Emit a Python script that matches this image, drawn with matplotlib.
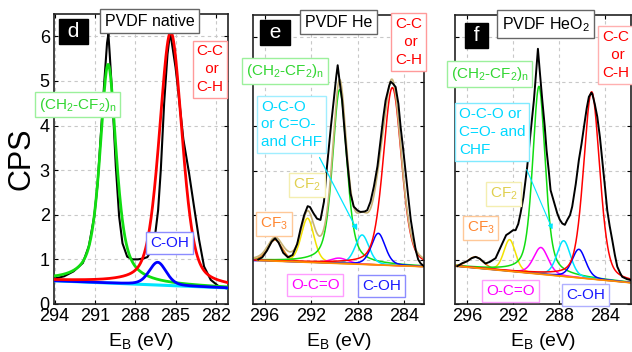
import numpy as np
import matplotlib.pyplot as plt
from matplotlib import font_manager

d_energy = [294.0, 293.3, 292.6, 291.9, 291.45, 291.05, 290.8, 290.55, 290.3, 290.1,
            290.0, 289.9, 289.7, 289.45, 289.2, 288.95, 288.6, 288.2, 287.8, 287.4,
            287.1, 286.8, 286.5, 286.3, 286.1, 285.85, 285.6, 285.4, 285.2, 285.0,
            284.87, 284.42, 284.0, 283.63, 283.25, 282.88, 282.38, 281.76, 281.2]
d_cps = [0.57, 0.62, 0.73, 0.92, 1.3, 1.97, 2.7, 3.85, 5.0, 5.85,
         6.05, 5.6, 4.6, 3.1, 1.96, 1.36, 1.06, 1.0, 1.0, 1.02,
         1.05, 1.2, 1.6, 2.1, 3.0, 4.5, 5.6, 6.1, 5.7, 5.3,
         4.96, 3.69, 2.94, 2.19, 1.44, 0.84, 0.54, 0.39, 0.35]

e_energy = [296.55, 296.2, 295.8, 295.4, 295.1, 294.8, 294.4, 294.0, 293.6, 293.2,
            292.9, 292.6, 292.3, 292.1, 291.8, 291.5, 291.2, 290.9, 290.64, 290.3,
            290.06, 289.85, 289.72, 289.55, 289.34, 289.1, 288.91, 288.62, 288.34, 288.0,
            287.76, 287.4, 287.18, 286.9, 286.61, 286.3, 286.03, 285.8, 285.6, 285.3,
            285.17, 284.95, 284.74, 284.5, 284.31, 284.1, 283.87, 283.65, 283.44, 283.2,
            283.01, 282.8, 282.58, 282.3]
e_cps = [1.0, 1.05, 1.2, 1.4, 1.48, 1.38, 1.15, 1.05, 1.1, 1.35,
         1.7, 2.0, 2.2, 2.18, 2.04, 1.92, 1.89, 2.3, 3.09, 4.0,
         4.58, 5.1, 5.37, 5.0, 4.58, 3.8, 3.24, 2.49, 2.19, 2.1,
         2.07, 2.08, 2.11, 2.3, 2.64, 3.1, 3.69, 4.2, 4.58, 4.9,
         5.0, 4.95, 4.88, 4.5, 3.98, 3.5, 2.94, 2.4, 1.9, 1.5,
         1.21, 1.0, 0.91, 0.85]

f_energy = [296.85, 296.4, 296.0, 295.6, 295.26, 294.9, 294.4, 294.0, 293.52, 292.94,
            292.6, 292.36, 292.0, 291.78, 291.55, 291.35, 291.1, 290.77, 290.5, 290.19,
            290.0, 289.84, 289.7, 289.46, 289.25, 289.09, 288.9, 288.74, 288.45, 288.16,
            287.95, 287.72, 287.5, 287.29, 287.05, 286.86, 286.55, 286.28, 286.05, 285.84,
            285.6, 285.41, 285.2, 285.12, 284.9, 284.68, 284.45, 284.25, 284.0, 283.81,
            283.6, 283.38, 283.15, 282.94, 282.7, 282.51, 282.1, 281.8]
f_cps = [0.85, 0.92, 0.96, 1.03, 1.06, 1.02, 0.91, 0.95, 1.03, 1.36,
         1.55, 1.59, 1.66, 1.66, 1.8, 2.04, 2.4, 3.09, 3.8, 4.58,
         5.2, 5.74, 5.3, 4.58, 4.0, 3.46, 3.0, 2.56, 2.3, 2.04,
         1.9, 1.81, 1.78, 1.89, 2.0, 2.19, 2.7, 3.24, 3.6, 3.98,
         4.4, 4.66, 4.75, 4.73, 4.5, 4.21, 3.75, 3.24, 2.6, 2.1,
         1.75, 1.44, 1.1, 0.84, 0.7, 0.61, 0.56, 0.54]

# fitted components: centre (eV), height above background, FWHM (eV), lorentz fraction
d_names = ['CH2-CF2', 'C-OH', 'C-C']
d_center = [290.02, 286.33, 285.36]
d_height = [4.9, 0.51, 5.68]
d_fwhm = [1.45, 1.5, 2.0]
d_eta = [0.7, 0.3, 0.4]
d_bg_energy = [294.05, 281.1]
d_bg_cps = [0.52, 0.36]

e_names = ['CF3', 'CF2', 'CH2-CF2', 'O-C=O', 'OCO', 'C-OH', 'C-C']
e_center = [295.1, 292.31, 289.55, 289.6, 287.62, 286.23, 285.02]
e_height = [0.475, 0.99, 3.91, 0.12, 0.66, 0.71, 4.0]
e_fwhm = [1.5, 1.3, 1.45, 1.8, 1.4, 1.4, 1.85]
e_eta = [0.3, 0.3, 0.5, 0.3, 0.3, 0.3, 0.35]
e_bg_energy = [296.6, 282.2]
e_bg_cps = [0.98, 0.84]

f_names = ['CF3', 'CF2', 'CH2-CF2', 'O-C=O', 'OCO', 'C-OH', 'C-C']
f_center = [295.26, 292.3, 289.75, 289.58, 287.6, 286.28, 285.17]
f_height = [0.25, 0.71, 4.22, 0.6, 0.8, 0.64, 4.21]
f_fwhm = [1.6, 1.2, 1.3, 1.5, 1.4, 1.4, 1.65]
f_eta = [0.3, 0.3, 0.5, 0.3, 0.3, 0.3, 0.35]
f_bg_energy = [296.9, 281.8]
f_bg_cps = [0.85, 0.48]

colors = {'CH2-CF2': '#11dd11', 'C-OH': '#0000ff', 'C-C': '#ff0000', 'CF3': '#e8801a',
          'CF2': '#f2e200', 'O-C=O': '#ff00ff', 'OCO': '#00e5ff'}

names = [f.name for f in font_manager.fontManager.ttflist]
narrow = 'Liberation Sans Narrow' if 'Liberation Sans Narrow' in names else 'Liberation Sans'
plt.rcParams['font.family'] = ['Liberation Sans', 'DejaVu Sans']
plt.rcParams['mathtext.default'] = 'regular'


def pvoigt(x, c, w, eta):
    r = (x - c) / w
    return eta / (1 + 4 * r ** 2) + (1 - eta) * np.exp(-4 * np.log(2) * r ** 2)


def setup(ax, xlim, xticks, ylabels):
    ax.set_xlim(xlim)
    ax.set_ylim(0, 6.5)
    ax.set_xticks(xticks)
    ax.set_yticks(range(7))
    ax.grid(True, color='#c8c8c8', ls=(0, (3, 3)), lw=0.8)
    ax.tick_params(direction='in', top=True, right=True, length=3, width=0.8,
                   labelsize=13, pad=3, labelleft=ylabels)
    for lab in ax.get_xticklabels() + ax.get_yticklabels():
        lab.set_family([narrow, 'Liberation Sans'])
    for s in ax.spines.values():
        s.set_linewidth(1.2)
        s.set_color('#222222')
    ax.set_xlabel('E$_B$ (eV)', fontsize=14, labelpad=4)


def components(ax, xlim, bg_e, bg_c, nm, cen, hgt, fw, et, lw, z):
    x = np.linspace(xlim[0], xlim[1], 800)
    bg = np.interp(x, bg_e[::-1], bg_c[::-1])
    total = bg.copy()
    for n, c, h, w, e in zip(nm, cen, hgt, fw, et):
        y = bg + h * pvoigt(x, c, w, e)
        total += h * pvoigt(x, c, w, e)
        ax.plot(x, y, color=colors[n], lw=lw, zorder=z)
    return x, total


def label(ax, x, y, s, col, ec, ha='center', fs=11):
    ax.text(x, y, s, color=col, fontsize=fs, ha=ha, va='center', zorder=10,
            linespacing=1.35,
            bbox=dict(boxstyle='square,pad=0.25', fc='white', ec=ec, lw=1))


def title_box(ax, x, y, s):
    ax.text(x, y, s, color='black', fontsize=11.5, ha='center', va='center', zorder=10,
            bbox=dict(boxstyle='square,pad=0.3', fc='white', ec='#666666', lw=1))


def panel_tag(ax, x, y, s):
    ax.text(x, y, s, color='white', fontsize=15, ha='center', va='center', zorder=10,
            bbox=dict(boxstyle='square,pad=0.15', fc='black', ec='black'))


fig = plt.figure(figsize=(6.32, 3.52), dpi=100)
ax_d = fig.add_axes([0.0854, 0.1364, 0.2753, 0.8239])
ax_e = fig.add_axes([0.4003, 0.1364, 0.2706, 0.821])
ax_f = fig.add_axes([0.7199, 0.1364, 0.2785, 0.821])

# ---- d : PVDF native
xl = (294.05, 281.1)
setup(ax_d, xl, [294, 291, 288, 285, 282], True)
ax_d.set_ylabel('CPS', fontsize=22, labelpad=2)
ax_d.plot(d_energy, d_cps, color='black', lw=1.5, zorder=3)
ax_d.plot(d_bg_energy, d_bg_cps, color='#00e5ff', lw=2.2, zorder=4)
components(ax_d, xl, d_bg_energy, d_bg_cps, d_names, d_center, d_height, d_fwhm, d_eta, 2.0, 4)
panel_tag(ax_d, 292.6, 6.1, ' d ')
title_box(ax_d, 286.93, 6.34, 'PVDF native')
label(ax_d, 282.45, 5.26, 'C-C\n or\nC-H', '#ff0000', '#ff9a9a')
label(ax_d, 292.29, 4.47, '(CH$_2$-CF$_2$)$_n$', '#33d633', '#9cf09c')
label(ax_d, 285.44, 1.37, 'C-OH', '#1a1aff', '#8c8cff')

# ---- e : PVDF He
xl = (297.0, 282.3)
setup(ax_e, xl, [296, 292, 288, 284], False)
xe, env = components(ax_e, xl, e_bg_energy, e_bg_cps, e_names, e_center, e_height,
                     e_fwhm, e_eta, 1.1, 2)
ax_e.plot(e_bg_energy, e_bg_cps, color='#ff8c00', lw=1.3, zorder=2.5)
ax_e.plot(xe, env, color='#c8b478', lw=1.2, zorder=2)
ax_e.plot(e_energy, e_cps, color='black', lw=1.4, zorder=3)
panel_tag(ax_e, 295.1, 6.1, ' e ')
title_box(ax_e, 289.66, 6.34, 'PVDF He')
label(ax_e, 283.61, 5.89, 'C-C\n or\nC-H', '#ff0000', '#ff9a9a')
label(ax_e, 294.24, 5.24, '(CH$_2$-CF$_2$)$_n$', '#33d633', '#9cf09c')
label(ax_e, 296.3, 4.04, 'O-C-O\nor C=O-\nand CHF', '#00d8ff', '#a0eeff', ha='left')
ax_e.annotate('', xy=(287.93, 1.6), xytext=(291.39, 3.35), zorder=9,
              arrowprops=dict(arrowstyle='-|>', color='#00e5ff', lw=0.9, mutation_scale=8))
label(ax_e, 292.34, 2.67, 'CF$_2$', '#e0d050', '#f4eeb0')
label(ax_e, 295.19, 1.8, 'CF$_3$', '#ff8833', '#ffc898')
label(ax_e, 291.65, 0.43, 'O-C=O', '#ff00ff', '#ff9cff')
label(ax_e, 285.95, 0.40, 'C-OH', '#1a1aff', '#8c8cff')

# ---- f : PVDF HeO2
xl = (297.05, 281.75)
setup(ax_f, xl, [296, 292, 288, 284], False)
components(ax_f, xl, f_bg_energy, f_bg_cps, f_names, f_center, f_height, f_fwhm, f_eta, 1.1, 2)
ax_f.plot(f_bg_energy, f_bg_cps, color='#ff8c00', lw=1.3, zorder=2.5)
ax_f.plot(f_energy, f_cps, color='black', lw=1.4, zorder=3)
panel_tag(ax_f, 295.17, 6.04, ' f ')
title_box(ax_f, 289.17, 6.29, 'PVDF HeO$_2$')
label(ax_f, 283.09, 5.6, 'C-C\n or\nC-H', '#ff0000', '#ffb0b0')
label(ax_f, 294.04, 5.17, '(CH$_2$-CF$_2$)$_n$', '#33d633', '#9cf09c')
label(ax_f, 296.7, 3.87, 'O-C-O or\nC=O- and\nCHF', '#00d8ff', '#80eaff', ha='left')
ax_f.annotate('', xy=(288.48, 1.62), xytext=(290.91, 3.08), zorder=9,
              arrowprops=dict(arrowstyle='-|>', color='#00e5ff', lw=0.8, mutation_scale=7))
label(ax_f, 292.83, 2.47, 'CF$_2$', '#e0d050', '#f4eeb0')
label(ax_f, 294.83, 1.71, 'CF$_3$', '#ff8833', '#ffc898')
label(ax_f, 292.22, 0.29, 'O-C=O', '#ff00ff', '#ff9cff')
label(ax_f, 285.7, 0.2, 'C-OH', '#1a1aff', '#b0b0ff')

fig.savefig('out.png', dpi=100)
